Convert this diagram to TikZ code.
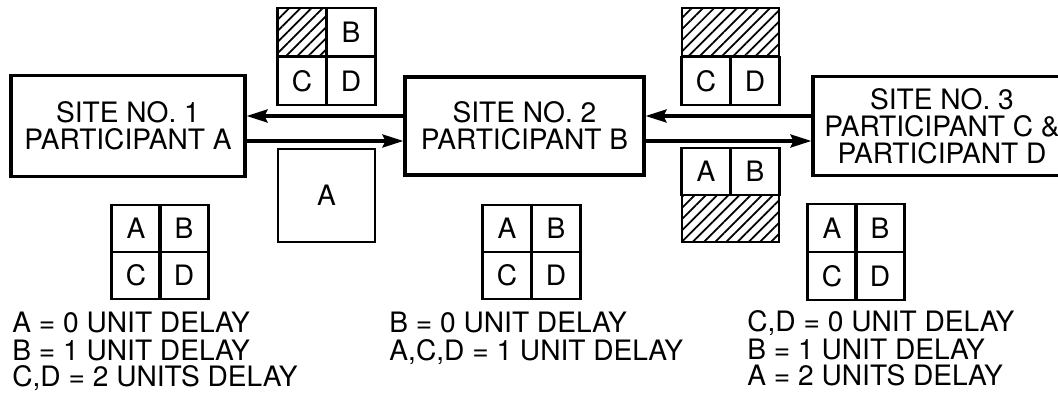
\documentclass[tikz,border=0pt]{standalone}
\usepackage{fontspec}
\setmainfont{TeX Gyre Heros}
\usetikzlibrary{arrows.meta, patterns.meta}

\begin{document}
\begin{tikzpicture}[x=0.02cm, y=-0.02cm, >={Stealth[length=0.42cm,width=0.26cm,inset=0.06cm]},
    site/.style={draw, line width=1.8pt, align=center, inner sep=0pt, font=\fontsize{16}{15.4}\selectfont},
    cell/.style={draw, line width=1.6pt, minimum width=0.97cm, minimum height=0.96cm, inner sep=0pt, font=\fontsize{16}{15.4}\selectfont},
    hatched/.style={cell, pattern={Lines[angle=45,distance=4.5pt,line width=1pt]}},
    legend/.style={anchor=base west, inner sep=0pt, font=\fontsize{16}{15.4}\selectfont},
    link/.style={->, line width=1.9pt}]
                      \clip (0,0) rectangle (1058,398);

                      % the three sites
                      \node[site, minimum width=4.68cm, minimum height=2.02cm] (site1) at (128,126) {SITE NO. 1\\PARTICIPANT A};
                      \node[site, minimum width=4.78cm, minimum height=1.96cm] (site2) at (524.5,126) {SITE NO. 2\\PARTICIPANT B};
                      \node[site, minimum width=5.16cm, minimum height=1.98cm] (site3) at (942,126) {SITE NO. 3\\PARTICIPANT C \&\\PARTICIPANT D};

                      \draw[link] ([yshift=0.2cm]site2.west) -- ([yshift=0.2cm]site1.east);
                      \draw[link] ([yshift=-0.3cm]site1.east) -- ([yshift=-0.3cm]site2.west);
                      \draw[link] ([yshift=0.2cm]site3.west) -- ([yshift=0.2cm]site2.east);
                      \draw[link] ([yshift=-0.3cm]site2.east) -- ([yshift=-0.3cm]site3.west);

                      % frames on the links
                      \node[hatched] (g1a) at (302,32) {};
                      \node[cell] (g1b) at (351,32) {B};
                      \node[cell] (g1c) at (302,81) {C};
                      \node[cell] (g1d) at (351,81) {D};

                      \node[cell, minimum width=1.94cm, minimum height=1.86cm] (ga) at (326.5,195.5) {A};

                      \node[hatched, minimum width=1.94cm] (g3ab) at (730.5,32) {};
                      \node[cell] (g3c) at (706,81) {C};
                      \node[cell] (g3d) at (755,81) {D};

                      \node[cell, minimum height=0.94cm] (g4a) at (706,171.5) {A};
                      \node[cell, minimum height=0.94cm] (g4b) at (755,171.5) {B};
                      \node[hatched, minimum width=1.94cm, minimum height=0.94cm] (g4cd) at (730.5,218.5) {};

                      % what each site shows
                      \node[cell, minimum height=0.94cm] (g5a) at (136,228.5) {A};
                      \node[cell, minimum height=0.94cm] (g5b) at (184,228.5) {B};
                      \node[cell, minimum height=0.94cm] (g5c) at (136,275.5) {C};
                      \node[cell, minimum height=0.94cm] (g5d) at (184,275.5) {D};

                      \node[cell, minimum height=0.94cm] (g6a) at (507,228.5) {A};
                      \node[cell, minimum height=0.94cm] (g6b) at (556,228.5) {B};
                      \node[cell, minimum height=0.94cm] (g6c) at (507,275.5) {C};
                      \node[cell, minimum height=0.94cm] (g6d) at (556,275.5) {D};

                      \node[cell] (g7a) at (832,228) {A};
                      \node[cell] (g7b) at (880,228) {B};
                      \node[cell] (g7c) at (832,276) {C};
                      \node[cell] (g7d) at (880,276) {D};

                      \node[legend] (leg1a) at (12,333) {A = 0 UNIT DELAY};
                      \node[legend] (leg1b) at (12,360) {B = 1 UNIT DELAY};
                      \node[legend] (leg1c) at (12,387) {C,D = 2 UNITS DELAY};

                      \node[legend] (leg2a) at (389,333) {B = 0 UNIT DELAY};
                      \node[legend] (leg2b) at (389,361) {A,C,D = 1 UNIT DELAY};

                      \node[legend] (leg3a) at (747,332) {C,D = 0 UNIT DELAY};
                      \node[legend] (leg3b) at (747,359) {B = 1 UNIT DELAY};
                      \node[legend] (leg3c) at (747,386) {A = 2 UNITS DELAY};

                    \end{tikzpicture}
\end{document}
